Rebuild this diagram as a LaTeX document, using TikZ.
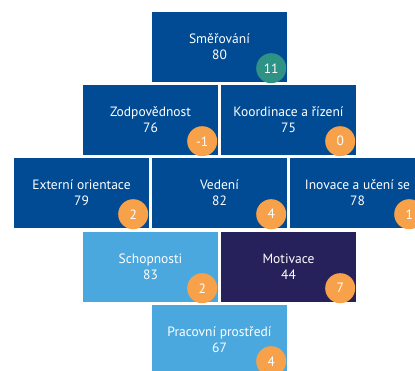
\documentclass[tikz,border=0pt]{standalone}
\usepackage{fontspec}
\setmainfont{PT Sans}
\usetikzlibrary{positioning}
\definecolor{tmava}{RGB}{0,75,147}
\definecolor{svetla}{RGB}{75,168,222}
\definecolor{fialova}{RGB}{39,33,91}
\definecolor{oranzova}{RGB}{247,161,74}
\definecolor{zelena}{RGB}{46,147,133}
\tikzstyle{oblast}  = [rectangle, minimum width=135pt, minimum height=70pt, inner sep=0pt, align=center, text=white, font=\fontsize{13.5}{16}\selectfont, fill=tmava]
\tikzstyle{skore}   = [circle, minimum size=30pt, inner sep=0pt, text=white, fill=oranzova, font=\fontsize{13.5}{14}\selectfont]

\begin{document}
\begin{tikzpicture}[x=1pt,y=1pt]
        \useasboundingbox (0,0) rectangle (415,370);
        \clip (0,0) rectangle (415,370);

        % rada 1
        \node[oblast] (smer) at (219.5,323) {Směřování\\80};
        % rada 2
        \node[oblast] (zodp) at (150.5,250) {Zodpovědnost\\76};
        \node[oblast] (koord) at (288.5,250) {Koordinace a řízení\\75};
        % rada 3
        \node[oblast] (ext) at (81.5,177) {Externí orientace\\79};
        \node[oblast] (ved) at (219.5,177) {Vedení\\82};
        \node[oblast] (inov) at (357.5,177) {Inovace a učení se\\78};
        % rada 4
        \node[oblast, fill=svetla] (schop) at (150.5,103) {Schopnosti\\83};
        \node[oblast, fill=fialova] (motiv) at (288.5,103) {Motivace\\44};
        % rada 5
        \node[oblast, fill=svetla] (prac) at (219.5,30) {Pracovní prostředí\\67};

        % skore
        \node[skore, fill=zelena] (s-smer) at ([shift={(-16,14)}]smer.south east) {11};
        \node[skore] (s-zodp) at ([shift={(-16,14)}]zodp.south east) {-1};
        \node[skore] (s-koord) at ([shift={(-16,14)}]koord.south east) {0};
        \node[skore] (s-ext) at ([shift={(-16,14)}]ext.south east) {2};
        \node[skore] (s-ved) at ([shift={(-16,14)}]ved.south east) {4};
        \node[skore] (s-inov) at ([shift={(-16,14)}]inov.south east) {1};
        \node[skore] (s-schop) at ([shift={(-16,14)}]schop.south east) {2};
        \node[skore] (s-motiv) at ([shift={(-16,14)}]motiv.south east) {7};
        \node[skore] (s-prac) at ([shift={(-16,14)}]prac.south east) {4};
    \end{tikzpicture}
\end{document}
